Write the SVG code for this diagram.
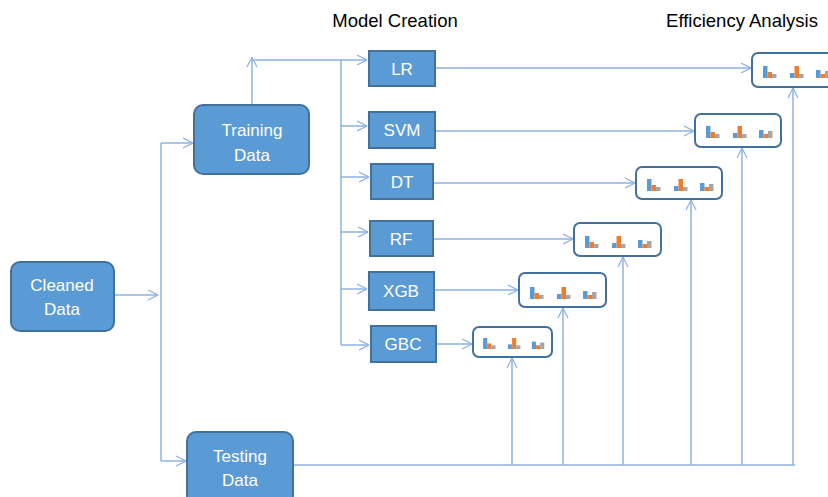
<svg xmlns="http://www.w3.org/2000/svg" xmlns:xlink="http://www.w3.org/1999/xlink" width="828" height="497" viewBox="0 0 828 497">
<style>
.node{fill:#5b9bd5;stroke:#41719c;stroke-width:2}
.res{fill:#ffffff;stroke:#41719c;stroke-width:2}
.lbl{font-family:"Liberation Sans",Arial,sans-serif;font-size:17px;fill:#ffffff;text-anchor:middle}
.title{font-family:"Liberation Sans",Arial,sans-serif;font-size:18.5px;fill:#000000;text-anchor:middle}
.c{fill:none;stroke:#8db3e2;stroke-width:1.5}
.a{marker-end:url(#arr)}
</style>
<defs>
<marker id="arr" viewBox="0 0 10 10" refX="10" refY="5" markerWidth="10" markerHeight="12" orient="auto" markerUnits="userSpaceOnUse">
<path d="M0,0 L10,5 L0,10" fill="none" stroke="#8db3e2" stroke-width="1.2"/>
</marker>
<g id="bars">
<rect x="11" y="13" width="4.5" height="12" fill="#5b9bd5"/>
<rect x="15.5" y="19" width="4.5" height="6" fill="#ed7d31"/>
<rect x="20" y="21" width="4.5" height="4" fill="#a5a5a5"/>
<rect x="38" y="20" width="4.5" height="5" fill="#5b9bd5"/>
<rect x="42.5" y="13" width="4.5" height="12" fill="#ed7d31"/>
<rect x="47" y="21" width="4.5" height="4" fill="#a5a5a5"/>
<rect x="64" y="17" width="4.5" height="8" fill="#5b9bd5"/>
<rect x="68.5" y="21" width="4.5" height="4" fill="#ed7d31"/>
<rect x="73" y="18" width="4.5" height="7" fill="#a5a5a5"/>
</g>
</defs>
<text class="title" x="395" y="27">Model Creation</text>
<text class="title" x="742" y="27">Efficiency Analysis</text>
<g id="connectors">
<line class="c a" x1="114" y1="295" x2="158" y2="295"/>
<line class="c" x1="161" y1="143" x2="161" y2="461"/>
<line class="c a" x1="161" y1="143" x2="193" y2="143"/>
<line class="c a" x1="161" y1="461" x2="186" y2="461"/>
<line class="c a" x1="252" y1="104" x2="252" y2="57"/>
<line class="c a" x1="252" y1="60" x2="367" y2="60"/>
<line class="c" x1="341" y1="60" x2="341" y2="345"/>
<line class="c a" x1="341" y1="126" x2="367" y2="126"/>
<line class="c a" x1="341" y1="177" x2="369" y2="177"/>
<line class="c a" x1="341" y1="232" x2="368" y2="232"/>
<line class="c a" x1="341" y1="289" x2="367" y2="289"/>
<line class="c a" x1="341" y1="345" x2="369" y2="345"/>
<line class="c a" x1="435" y1="68" x2="751" y2="68"/>
<line class="c a" x1="435" y1="131" x2="694" y2="131"/>
<line class="c a" x1="433" y1="183" x2="635" y2="183"/>
<line class="c a" x1="433" y1="239" x2="573" y2="239"/>
<line class="c a" x1="434" y1="290" x2="518" y2="290"/>
<line class="c a" x1="436" y1="344" x2="472" y2="344"/>
<line class="c" x1="293" y1="465" x2="795" y2="465"/>
<line class="c a" x1="512" y1="465" x2="512" y2="358"/>
<line class="c a" x1="563" y1="465" x2="563" y2="308"/>
<line class="c a" x1="623" y1="465" x2="623" y2="257"/>
<line class="c a" x1="691" y1="465" x2="691" y2="200"/>
<line class="c a" x1="742" y1="465" x2="742" y2="148"/>
<line class="c a" x1="793" y1="465" x2="793" y2="88"/>
</g>
<g id="cleaned">
<rect class="node" x="11" y="262" width="103" height="69" rx="9"/>
<text class="lbl" x="62" y="291">Cleaned</text>
<text class="lbl" x="62" y="315">Data</text>
</g>
<g id="training">
<rect class="node" x="194" y="105" width="115" height="69" rx="9"/>
<text class="lbl" x="252" y="136">Training</text>
<text class="lbl" x="252" y="161">Data</text>
</g>
<g id="testing">
<rect class="node" x="187" y="432" width="106" height="72" rx="9"/>
<text class="lbl" x="240" y="462">Testing</text>
<text class="lbl" x="240" y="486">Data</text>
</g>
<g id="lr"><rect class="node" x="369" y="51" width="66" height="35"/><text class="lbl" x="402" y="75">LR</text></g>
<g id="svm"><rect class="node" x="369" y="112" width="66" height="36"/><text class="lbl" x="402" y="136">SVM</text></g>
<g id="dt"><rect class="node" x="371" y="164" width="62" height="35"/><text class="lbl" x="402" y="188">DT</text></g>
<g id="rf"><rect class="node" x="370" y="221" width="63" height="35"/><text class="lbl" x="401" y="245">RF</text></g>
<g id="xgb"><rect class="node" x="369" y="272" width="65" height="38"/><text class="lbl" x="401" y="297">XGB</text></g>
<g id="gbc"><rect class="node" x="371" y="326" width="65" height="36"/><text class="lbl" x="403" y="350">GBC</text></g>
<g id="res-lr"><rect class="res" x="752" y="53" width="86" height="34" rx="6"/><use xlink:href="#bars" href="#bars" transform="translate(752,53)"/></g>
<g id="res-svm"><rect class="res" x="695" y="114" width="86" height="33" rx="6"/><use xlink:href="#bars" href="#bars" transform="translate(695,113)"/></g>
<g id="res-dt"><rect class="res" x="636" y="167" width="86" height="32" rx="6"/><use xlink:href="#bars" href="#bars" transform="translate(636,166)"/></g>
<g id="res-rf"><rect class="res" x="574" y="223" width="87" height="33" rx="6"/><use xlink:href="#bars" href="#bars" transform="translate(574,223)"/></g>
<g id="res-xgb"><rect class="res" x="519" y="273" width="87" height="34" rx="6"/><use xlink:href="#bars" href="#bars" transform="translate(519,274)"/></g>
<g id="res-gbc"><rect class="res" x="473" y="327" width="79" height="30" rx="6"/><use xlink:href="#bars" href="#bars" transform="translate(473,326) scale(0.92)"/></g>
</svg>
